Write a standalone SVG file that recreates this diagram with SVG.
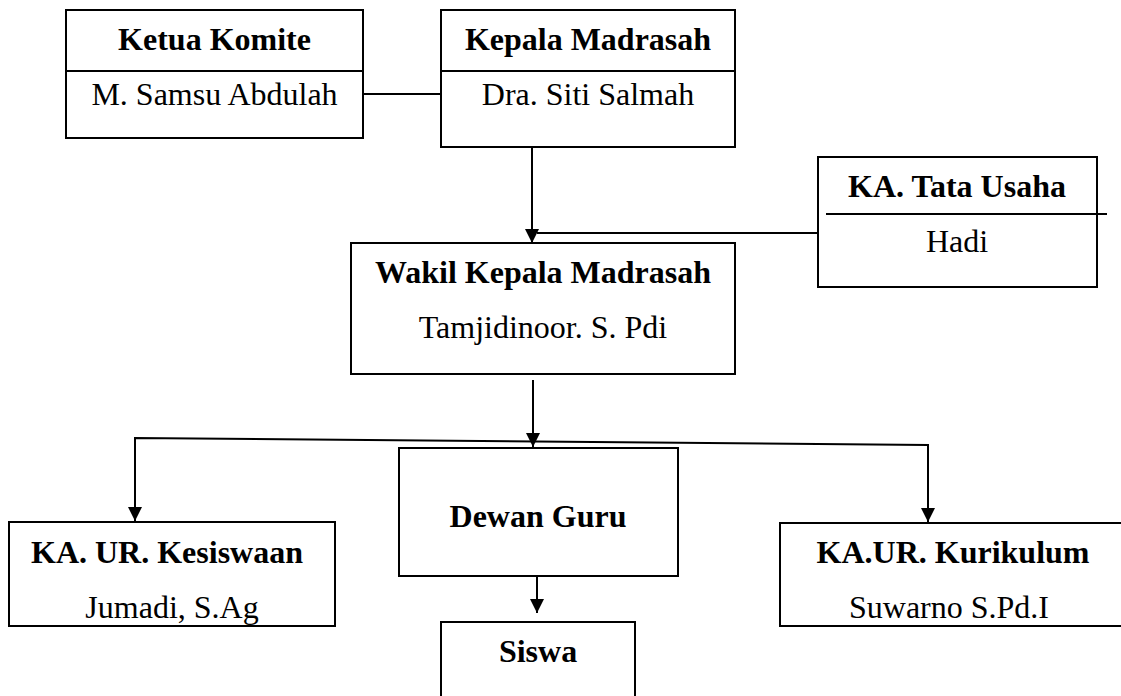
<svg xmlns="http://www.w3.org/2000/svg" width="1121" height="696" viewBox="0 0 1121 696">
<style>
.box{fill:#fff;stroke:#000;stroke-width:2}
.ln{fill:none;stroke:#000;stroke-width:2}
.b{font-family:"Liberation Serif","Times New Roman",serif;font-size:32px;font-weight:bold;text-anchor:middle;fill:#000}
.r{font-family:"Liberation Serif","Times New Roman",serif;font-size:32px;text-anchor:middle;fill:#000}
</style>
<defs>
<marker id="ah" markerWidth="14" markerHeight="14" refX="14" refY="7" orient="auto" markerUnits="userSpaceOnUse">
<path d="M0,0 L14,7 L0,14 Z" fill="#000"/>
</marker>
</defs>
<rect width="1121" height="696" fill="#fff"/>
<g id="connectors">
<line class="ln" x1="363" y1="94" x2="441" y2="94"/>
<line class="ln" x1="532" y1="147" x2="532" y2="243" marker-end="url(#ah)"/>
<line class="ln" x1="537" y1="233" x2="818" y2="233"/>
<line class="ln" x1="533" y1="380" x2="533" y2="447" marker-end="url(#ah)"/>
<polyline class="ln" points="135,521 135,438 928,445 928,522" marker-end="url(#ah)"/>
<line class="ln" x1="135" y1="438" x2="135" y2="521" marker-end="url(#ah)"/>
<line class="ln" x1="537" y1="576" x2="537" y2="613" marker-end="url(#ah)"/>
</g>
<g id="ketua-komite">
<rect class="box" x="66" y="10" width="297" height="128"/>
<line class="ln" x1="66" y1="71" x2="363" y2="71"/>
<text class="b" x="214.5" y="50">Ketua Komite</text>
<text class="r" x="214.5" y="105">M. Samsu Abdulah</text>
</g>
<g id="kepala-madrasah">
<rect class="box" x="441" y="10" width="294" height="137"/>
<line class="ln" x1="441" y1="71" x2="735" y2="71"/>
<text class="b" x="588" y="50">Kepala Madrasah</text>
<text class="r" x="588" y="105">Dra. Siti Salmah</text>
</g>
<g id="tata-usaha">
<rect class="box" x="818" y="157" width="279" height="130"/>
<line class="ln" x1="826" y1="214" x2="1107" y2="214"/>
<text class="b" x="957" y="197">KA. Tata Usaha</text>
<text class="r" x="957" y="252">Hadi</text>
</g>
<g id="wakil-kepala">
<rect class="box" x="351" y="243" width="384" height="131"/>
<text class="b" x="543" y="283">Wakil Kepala Madrasah</text>
<text class="r" x="543" y="338">Tamjidinoor. S. Pdi</text>
</g>
<g id="dewan-guru">
<rect class="box" x="399" y="448" width="279" height="128"/>
<text class="b" x="538" y="527">Dewan Guru</text>
</g>
<g id="siswa">
<rect class="box" x="441" y="622" width="194" height="90"/>
<text class="b" x="538" y="662">Siswa</text>
</g>
<g id="kesiswaan">
<rect class="box" x="9" y="522" width="326" height="104"/>
<text class="b" x="167" y="563">KA. UR. Kesiswaan</text>
<text class="r" x="172" y="618">Jumadi, S.Ag</text>
</g>
<g id="kurikulum">
<rect class="box" x="780" y="523" width="350" height="103"/>
<text class="b" x="953" y="563">KA.UR. Kurikulum</text>
<text class="r" x="949" y="618">Suwarno S.Pd.I</text>
</g>
</svg>
